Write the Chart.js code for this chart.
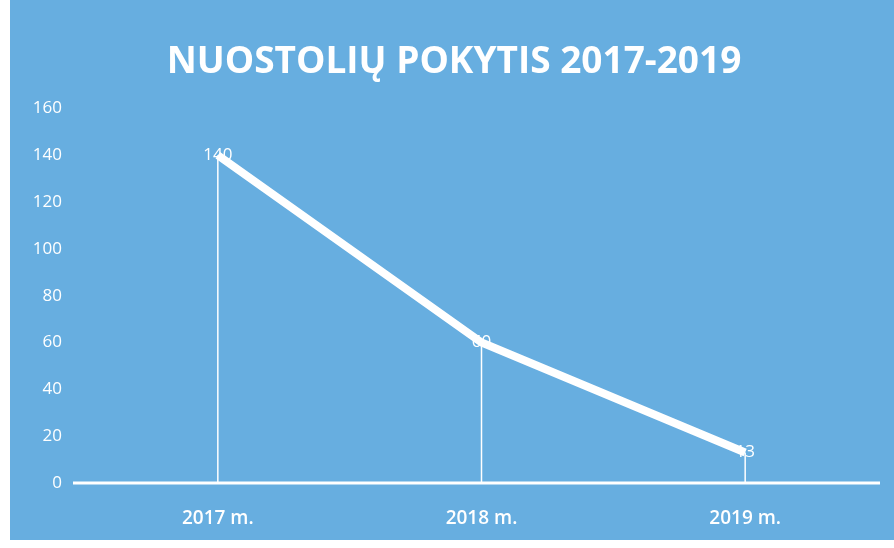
<!DOCTYPE html>
<html>
<head>
<meta charset="utf-8">
<script src="https://cdn.jsdelivr.net/npm/chart.js@4"></script>
<style>
  html, body { margin: 0; padding: 0; }
  body { width: 894px; height: 548px; background: #ffffff; overflow: hidden; }
  #wrap { position: absolute; left: 10px; top: 0; width: 884px; height: 540px; background: #67aee0; }
</style>
</head>
<body>
<div id="wrap"><canvas id="loss-chart" width="884" height="540"></canvas></div>
<script>
// ===== duomenys =====
const years  = ['2017 m.', '2018 m.', '2019 m.'];
const losses = [140, 60, 13];
const yTicks = [0, 20, 40, 60, 80, 100, 120, 140, 160];

const txtFont = '"Open Sans", "Noto Sans", sans-serif';

// vertical drop lines, axis line, value labels
const dropLines = {
  id: 'dropLines',
  afterDatasetsDraw: function(chart) {
    const ctx = chart.ctx;
    const x = chart.scales.x;
    const y = chart.scales.y;
    ctx.save();
    ctx.strokeStyle = '#ffffff';
    ctx.lineWidth = 1.5;
    losses.forEach(function(v, i) {
      const px = x.getPixelForValue(i);
      ctx.beginPath();
      ctx.moveTo(px, y.getPixelForValue(v));
      ctx.lineTo(px, y.getPixelForValue(0));
      ctx.stroke();
    });
    ctx.lineWidth = 3;
    ctx.beginPath();
    ctx.moveTo(63, y.getPixelForValue(0));
    ctx.lineTo(870, y.getPixelForValue(0));
    ctx.stroke();
    ctx.fillStyle = '#ffffff';
    ctx.font = '17px ' + txtFont;
    ctx.textAlign = 'center';
    ctx.textBaseline = 'middle';
    losses.forEach(function(v, i) {
      ctx.fillText(String(v), x.getPixelForValue(i), y.getPixelForValue(v));
    });
    ctx.restore();
  }
};

new Chart(document.getElementById('loss-chart'), {
  type: 'line',
  data: {
    labels: years,
    datasets: [{
      data: losses,
      borderColor: '#ffffff',
      borderWidth: 8,
      pointRadius: 0,
      tension: 0,
      fill: false
    }]
  },
  options: {
    responsive: false,
    animation: false,
    layout: { padding: { left: 21, right: 17, top: 40, bottom: 0 } },
    plugins: {
      legend: { display: false },
      tooltip: { enabled: false },
      title: {
        display: true,
        text: 'NUOSTOLIŲ POKYTIS 2017-2019',
        color: '#ffffff',
        font: { family: txtFont, size: 37, weight: 'bold' },
        padding: { top: 0, bottom: 24 }
      }
    },
    scales: {
      x: {
        offset: true,
        grid: { display: false, drawTicks: false },
        border: { display: false },
        afterFit: function(axis) { axis.height = 57; },
        ticks: { color: '#ffffff', font: { family: txtFont, size: 19, weight: '600' }, padding: 24 }
      },
      y: {
        min: 0,
        max: 160,
        afterBuildTicks: function(axis) { axis.ticks = yTicks.map(function(v) { return { value: v }; }); },
        afterFit: function(axis) { axis.width = 55; },
        grid: { display: false, drawTicks: false },
        border: { display: false },
        ticks: { color: '#ffffff', font: { family: txtFont, size: 17 }, padding: 24 }
      }
    }
  },
  plugins: [dropLines]
});
</script>
</body>
</html>
